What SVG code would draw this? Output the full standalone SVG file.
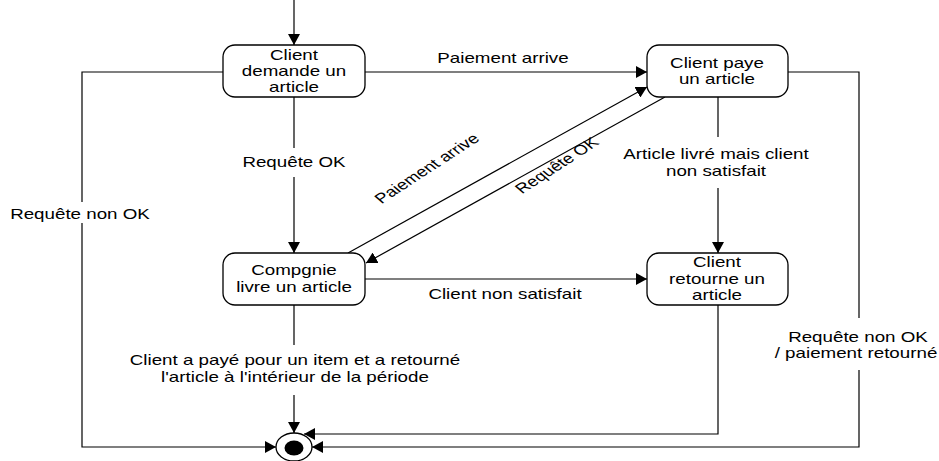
<svg xmlns="http://www.w3.org/2000/svg" width="939" height="461" viewBox="0 0 939 461">
<defs>
<style>
.node rect{fill:#fff;stroke:#000;stroke-width:1.3}
.edges path,.edges line{fill:none;stroke:#000;stroke-width:1.2}
text{font-family:"Liberation Sans",Arial,sans-serif;font-size:14px;fill:#000;text-anchor:middle}
</style>
<marker id="ah" markerUnits="userSpaceOnUse" markerWidth="12" markerHeight="12" refX="11" refY="6" orient="auto">
<path d="M0,0 L11,6 L0,12 z" fill="#000"/>
</marker>
</defs>
<rect width="939" height="461" fill="#fff"/>
<g class="edges">
<line x1="294" y1="0" x2="294" y2="45" marker-end="url(#ah)"/>
<line x1="365" y1="72" x2="647" y2="72" marker-end="url(#ah)"/>
<text transform="translate(503,63) scale(1.34,1)">Paiement arrive</text>
<path d="M223,72 H82 V202 M82,223 V447 H276" marker-end="url(#ah)"/>
<text transform="translate(80,219) scale(1.34,1)">Requête non OK</text>
<path d="M294,97 V148 M294,177 V253" marker-end="url(#ah)"/>
<text transform="translate(294,167) scale(1.34,1)">Requête OK</text>
<line x1="348" y1="253" x2="647" y2="87" marker-end="url(#ah)"/>
<text transform="translate(431,172) scale(1.34,1) rotate(-41)">Paiement arrive</text>
<line x1="665" y1="97" x2="366" y2="263" marker-end="url(#ah)"/>
<text transform="translate(561,169) scale(1.34,1) rotate(-41)">Requête OK</text>
<path d="M718,97 V137 M718,188 V253" marker-end="url(#ah)"/>
<text transform="translate(716,159) scale(1.34,1)">Article livré mais client</text>
<text transform="translate(716,176) scale(1.34,1)">non satisfait</text>
<line x1="365" y1="279" x2="647" y2="279" marker-end="url(#ah)"/>
<text transform="translate(505,299) scale(1.34,1)">Client non satisfait</text>
<path d="M788,72 H859 V318 M859,370 V447 H312" marker-end="url(#ah)"/>
<text transform="translate(858,342) scale(1.34,1)">Requête non OK</text>
<text transform="translate(856,358) scale(1.34,1)">/ paiement retourné</text>
<path d="M718,305 V434 H304" marker-end="url(#ah)"/>
<path d="M294,305 V345 M294,395 V433" marker-end="url(#ah)"/>
<text transform="translate(295,365) scale(1.34,1)">Client a payé pour un item et a retourné</text>
<text transform="translate(295,382) scale(1.34,1)">l'article à l'intérieur de la période</text>
</g>
<g id="n1" class="node">
<rect x="223" y="45" width="142" height="52" rx="12"/>
<text transform="translate(294,60) scale(1.34,1)">Client</text>
<text transform="translate(294,76) scale(1.34,1)">demande un</text>
<text transform="translate(294,92) scale(1.34,1)">article</text>
</g>
<g id="n2" class="node">
<rect x="647" y="45" width="141" height="52" rx="12"/>
<text transform="translate(717,68) scale(1.34,1)">Client paye</text>
<text transform="translate(717,84) scale(1.34,1)">un article</text>
</g>
<g id="n3" class="node">
<rect x="223" y="253" width="142" height="52" rx="12"/>
<text transform="translate(294,275) scale(1.34,1)">Compgnie</text>
<text transform="translate(294,292) scale(1.34,1)">livre un article</text>
</g>
<g id="n4" class="node">
<rect x="647" y="253" width="141" height="52" rx="12"/>
<text transform="translate(717,267) scale(1.34,1)">Client</text>
<text transform="translate(717,284) scale(1.34,1)">retourne un</text>
<text transform="translate(717,300) scale(1.34,1)">article</text>
</g>
<g id="final">
<ellipse cx="294" cy="447" rx="18" ry="14" fill="#fff" stroke="#000" stroke-width="1.3"/>
<ellipse cx="294" cy="448" rx="9.5" ry="7.5" fill="#000"/>
</g>
</svg>
